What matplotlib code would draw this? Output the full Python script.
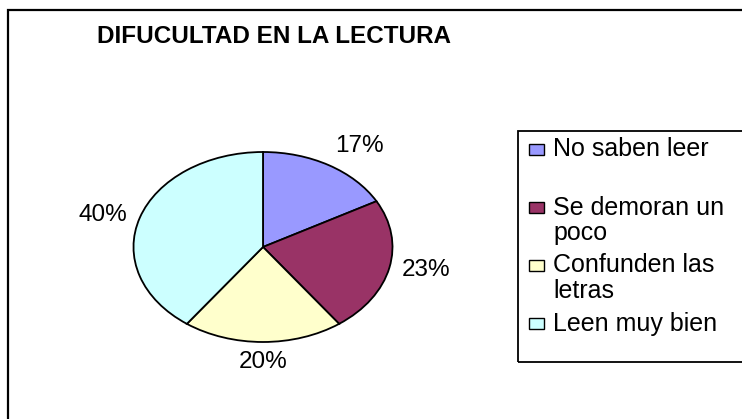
import matplotlib
matplotlib.use('Agg')
import matplotlib.pyplot as plt
from matplotlib.patches import Rectangle

# datos del grafico
categorias = ['No saben leer', 'Se demoran un\npoco', 'Confunden las\nletras', 'Leen muy bien']
porcentajes = [17, 23, 20, 40]
etiquetas = ['17%', '23%', '20%', '40%']
colores = ['#9999FF', '#993366', '#FFFFCC', '#CCFFFF']
titulo = 'DIFUCULTAD EN LA LECTURA'

plt.rcParams['font.family'] = ['Liberation Sans', 'DejaVu Sans']

W, H = 742, 419
fig = plt.figure(figsize=(W / 100, H / 100), dpi=100)


def fx(px):
    return px / W


def fy(py):
    return 1 - py / H


# marco exterior (se sale por la derecha y por abajo)
fig.patches.append(Rectangle((fx(8), fy(440)), fx(800), 430 / H, transform=fig.transFigure,
                             fill=False, ec='black', lw=1.6))

fig.text(fx(274), fy(43), titulo, fontsize=17.5, fontweight='bold', ha='center', va='baseline')

# torta eliptica
ax = fig.add_axes([fx(263 - 129.5), fy(247 + 95), 259 / W, 190 / H])
wedges, textos = ax.pie(porcentajes, labels=etiquetas, colors=colores, startangle=90,
                        counterclock=False, labeldistance=1.1,
                        wedgeprops=dict(edgecolor='black', linewidth=1.3),
                        textprops=dict(fontsize=17.5))
ax.set_aspect('auto')
ax.set_xlim(-1, 1)
ax.set_ylim(-1, 1)
ax.axis('off')
for t in textos:
    x, y = t.get_position()
    if abs(x) < 0.3:
        t.set_ha('center')
    if y > 0.6:
        t.set_va('bottom')
    elif y < -0.6:
        t.set_va('top')

# leyenda
fig.patches.append(Rectangle((fx(518), fy(362)), fx(300), (362 - 131) / H, transform=fig.transFigure,
                             fill=False, ec='black', lw=1.3))
for i, (cat, col) in enumerate(zip(categorias, colores)):
    base = 156 + i * 58
    fig.patches.append(Rectangle((fx(529), fy(base - 1)), 15 / W, 11 / H, transform=fig.transFigure,
                                 fc=col, ec='black', lw=1))
    fig.text(fx(553), fy(base - 18.5), cat, fontsize=18, ha='left', va='top', linespacing=1.06)

fig.savefig('out.png', dpi=100)
